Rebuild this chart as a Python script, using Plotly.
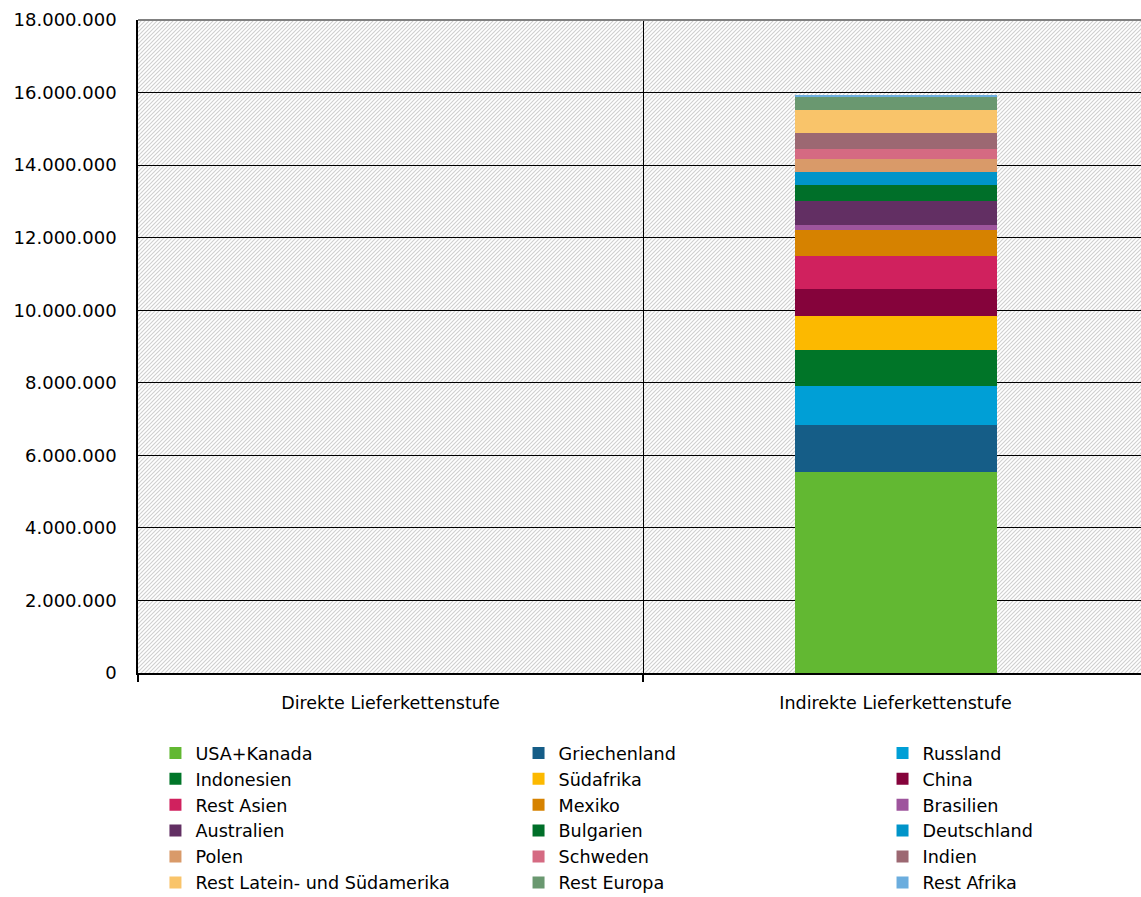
import base64
import plotly.graph_objects as go

# Lieferkettenstufen (x categories)
stufen = ["Direkte Lieferkettenstufe", "Indirekte Lieferkettenstufe"]

# Regionen in stacking order (bottom to top) and their colours
regionen = [
    "USA+Kanada", "Griechenland", "Russland",
    "Indonesien", "Südafrika", "China",
    "Rest Asien", "Mexiko", "Brasilien",
    "Australien", "Bulgarien", "Deutschland",
    "Polen", "Schweden", "Indien",
    "Rest Latein- und Südamerika", "Rest Europa", "Rest Afrika",
]
farben = [
    "#62b832", "#155d87", "#009fd6",
    "#007528", "#fcb900", "#85033b",
    "#d0215e", "#d68200", "#9e559d",
    "#622f63", "#006f29", "#0094c9",
    "#d99a69", "#d56a82", "#9c6872",
    "#f9c46a", "#6a9870", "#6badde",
]

# Values per region for each stage
direkt = [0] * len(regionen)
indirekt = [
    5530000, 1300000, 1075000,
    1010000, 920000, 755000,
    900000, 710000, 145000,
    655000, 450000, 370000,
    358000, 257000, 450000,
    645000, 358000, 44000,
]

W, H = 1141, 897
ML, MR, MT, MB = 138, 0, 20, 224
PW, PH = W - ML - MR, H - MT - MB

FONT = "DejaVu Sans"

# light upward-diagonal hatch used as the plot-area fill
hatch_svg = (
    f'<svg xmlns="http://www.w3.org/2000/svg" width="{PW}" height="{PH}">'
    '<defs><pattern id="h" width="4" height="4" patternUnits="userSpaceOnUse">'
    '<path d="M-1,1 l2,-2 M0,4 l4,-4 M3,5 l2,-2" stroke="#cfcfcf" stroke-width="1.1"/>'
    '</pattern></defs><rect width="100%" height="100%" fill="#ffffff"/>'
    '<rect width="100%" height="100%" fill="url(#h)"/></svg>'
)
hatch_uri = "data:image/svg+xml;base64," + base64.b64encode(hatch_svg.encode()).decode()

fig = go.Figure()
legend_ids = ["legend", "legend2", "legend3"]
for i, (name, color) in enumerate(zip(regionen, farben)):
    fig.add_trace(go.Bar(
        x=stufen,
        y=[direkt[i], indirekt[i]],
        name=name,
        marker=dict(color=color, line=dict(width=0)),
        width=0.4,
        legend=legend_ids[i % 3],
    ))

leg_common = dict(
    orientation="v",
    traceorder="normal",
    font=dict(family=FONT, size=17.6, color="#000000"),
    bgcolor="rgba(0,0,0,0)",
    borderwidth=0,
    xanchor="left",
    yanchor="top",
    y=-0.095,
)

fig.update_layout(
    width=W,
    height=H,
    margin=dict(l=ML, r=MR, t=MT, b=MB, autoexpand=False),
    barmode="stack",
    paper_bgcolor="#ffffff",
    plot_bgcolor="rgba(0,0,0,0)",
    separators=",.",
    font=dict(family=FONT, size=18, color="#000000"),
    showlegend=True,
    legend=dict(x=0.0174, **leg_common),
    legend2=dict(x=0.3794, **leg_common),
    legend3=dict(x=0.7423, **leg_common),
    images=[dict(
        source=hatch_uri, xref="paper", yref="paper",
        x=0, y=1, sizex=1, sizey=1, xanchor="left", yanchor="top",
        sizing="stretch", layer="below",
    )],
    shapes=[dict(
        type="line", xref="paper", yref="paper",
        x0=0, x1=1, y0=1, y1=1,
        line=dict(color="#808080", width=2),
    )],
    xaxis=dict(
        range=[-0.5, -0.5 + PW / 505],
        tickson="boundaries",
        ticks="outside",
        ticklen=7,
        tickwidth=2,
        tickcolor="#000000",
        ticklabelstandoff=13,
        showgrid=True,
        gridcolor="#000000",
        gridwidth=1,
        showline=True,
        linecolor="#000000",
        linewidth=2,
        tickfont=dict(family=FONT, size=17.5),
        zeroline=False,
    ),
    yaxis=dict(
        range=[0, 18000000],
        dtick=2000000,
        tickformat=",d",
        ticks="",
        ticklabelstandoff=16,
        showgrid=True,
        gridcolor="#000000",
        gridwidth=1,
        showline=True,
        linecolor="#000000",
        linewidth=1.5,
        zeroline=False,
        tickfont=dict(family=FONT, size=18),
    ),
)

fig.write_html("out.html")
